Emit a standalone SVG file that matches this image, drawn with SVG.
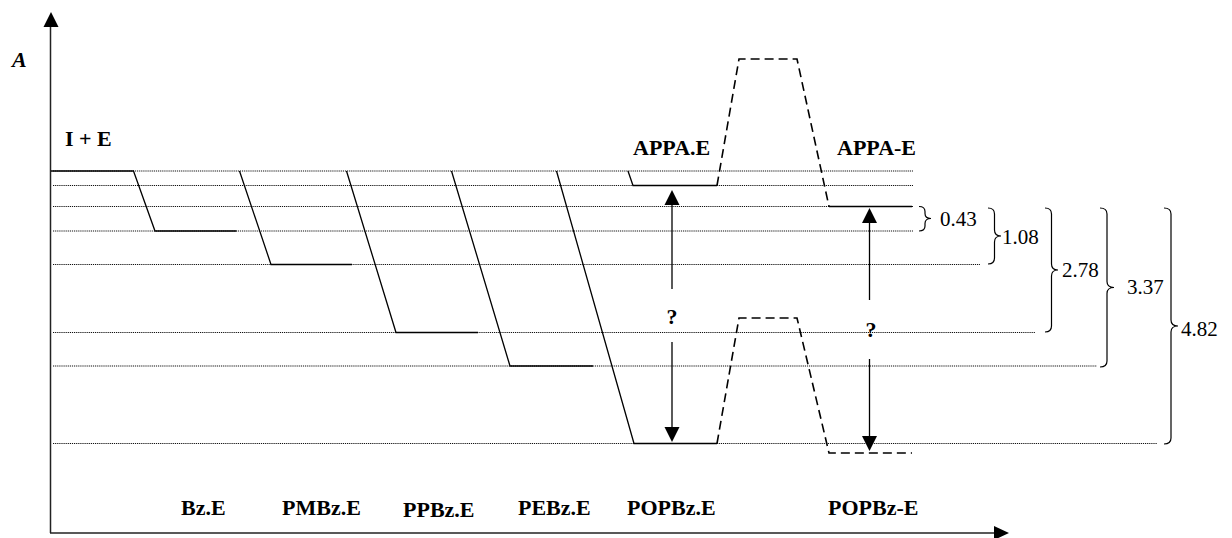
<svg xmlns="http://www.w3.org/2000/svg" width="1232" height="538" viewBox="0 0 1232 538">
<style>
.t{font-family:"Liberation Serif","Times New Roman",serif;font-weight:bold;font-size:22px;fill:#000}
.n{font-family:"Liberation Serif","Times New Roman",serif;font-size:21px;fill:#000}
.dot{stroke:#111;stroke-width:1.1;stroke-dasharray:1.2 0.9;fill:none}
.sol{stroke:#000;stroke-width:1.3;fill:none}
.dash{stroke:#000;stroke-width:1.6;stroke-dasharray:9 5;fill:none}
.ax{stroke:#222;stroke-width:1.5;fill:none}
.br{stroke:#000;stroke-width:1.2;fill:none}
</style>
<rect width="1232" height="538" fill="#fff"/>
<g id="axes">
<line class="ax" x1="50.5" y1="26" x2="50.5" y2="533"/>
<polygon points="43.5,27 51,12 58.5,27" fill="#000"/>
<line class="ax" x1="50" y1="533" x2="996" y2="533"/>
<polygon points="994,526 1009,533 994,540" fill="#000"/>
<text class="t" x="12" y="67" font-style="italic">A</text>
</g>
<g id="levels">
<line class="dot" x1="53" y1="171" x2="913" y2="171"/>
<line class="dot" x1="53" y1="185.5" x2="913" y2="185.5"/>
<line class="dot" x1="53" y1="206.5" x2="913" y2="206.5"/>
<line class="dot" x1="53" y1="231" x2="913" y2="231"/>
<line class="dot" x1="53" y1="264.5" x2="980" y2="264.5"/>
<line class="dot" x1="53" y1="332.5" x2="1035" y2="332.5"/>
<line class="dot" x1="53" y1="366" x2="1097" y2="366"/>
<line class="dot" x1="53" y1="443.5" x2="1157" y2="443.5"/>
</g>
<g id="IE">
<polyline class="sol" points="51,171 134,171"/>
<text class="t" x="65" y="146">I + E</text>
</g>
<g id="BzE">
<polyline class="sol" points="133.5,171 155,231 236.5,231"/>
<text class="t" x="181" y="515">Bz.E</text>
</g>
<g id="PMBzE">
<polyline class="sol" points="239.5,171 271,264.5 352,264.5"/>
<text class="t" x="282" y="515">PMBz.E</text>
</g>
<g id="PPBzE">
<polyline class="sol" points="346.5,171 396,332.5 478,332.5"/>
<text class="t" x="403" y="517">PPBz.E</text>
</g>
<g id="PEBzE">
<polyline class="sol" points="451.5,171 510,366 593,366"/>
<text class="t" x="518" y="515">PEBz.E</text>
</g>
<g id="POPBzE">
<polyline class="sol" points="556.5,171 634,443.5 717,443.5"/>
<polyline class="dash" points="717,443.5 739,318 797,318 829,453 912,453"/>
<text class="t" x="627" y="515">POPBz.E</text>
<text class="t" x="828" y="515">POPBz-E</text>
</g>
<g id="APPAE">
<polyline class="sol" points="628,171 633,185.5 717,185.5"/>
<polyline class="dash" points="717,185.5 739,59 797,59 829,206.5"/>
<polyline class="sol" points="829,206.5 912,206.5"/>
<text class="t" x="633" y="155">APPA.E</text>
<text class="t" x="837" y="155">APPA-E</text>
</g>
<g id="connectors">
<line class="sol" x1="672" y1="204" x2="672" y2="289"/>
<polygon points="664.5,205 672,190 679.5,205" fill="#000"/>
<line class="sol" x1="672" y1="342" x2="672" y2="428"/>
<polygon points="664.5,427 672,442 679.5,427" fill="#000"/>
<text class="t" x="672" y="324" text-anchor="middle">?</text>
<line class="sol" x1="869.5" y1="222" x2="869.5" y2="300"/>
<polygon points="862,223 869.5,208 877,223" fill="#000"/>
<line class="sol" x1="869.5" y1="359" x2="869.5" y2="437"/>
<polygon points="862,436 869.5,451 877,436" fill="#000"/>
<text class="t" x="871" y="337" text-anchor="middle">?</text>
</g>
<g id="brackets">
<path class="br" d="M919,206.5 Q925,206.5 925,211.5 L925,213.5 Q925,218.5 931,218.5 Q925,218.5 925,223.5 L925,226 Q925,231 919,231"/>
<text class="n" x="940" y="226">0.43</text>
<path class="br" d="M988,208 Q994.5,208 994.5,214 L994.5,230 Q994.5,236 1001,236 Q994.5,236 994.5,242 L994.5,258 Q994.5,264 988,264"/>
<text class="n" x="1002" y="244">1.08</text>
<path class="br" d="M1045,208 Q1051.5,208 1051.5,214 L1051.5,264 Q1051.5,270 1058,270 Q1051.5,270 1051.5,276 L1051.5,326 Q1051.5,332 1045,332"/>
<text class="n" x="1062" y="277">2.78</text>
<path class="br" d="M1100,208 Q1107,208 1107,214 L1107,281.5 Q1107,287.5 1114,287.5 Q1107,287.5 1107,293.5 L1107,361 Q1107,367 1100,367"/>
<text class="n" x="1127" y="294">3.37</text>
<path class="br" d="M1164,208 Q1171,208 1171,214 L1171,320 Q1171,326 1178,326 Q1171,326 1171,332 L1171,438 Q1171,444 1164,444"/>
<text class="n" x="1181" y="336">4.82</text>
</g>
</svg>
